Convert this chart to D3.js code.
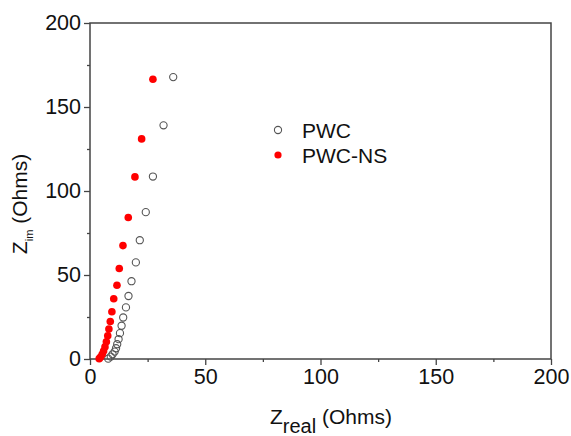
<!DOCTYPE html>
<html>

<head>
    <meta charset="utf-8" />
    <script src="https://d3js.org/d3.v7.min.js"></script>
    <style>
        body {
            margin: 0;
            background: #fff;
        }

        text {
            font-family: "Liberation Sans", Arial, sans-serif;
            fill: #111;
        }
    </style>
</head>

<body>
    <script>
        // data (Ohms)
        const pwcReal = [7.9, 9.0, 9.8, 10.7, 11.3, 11.8, 12.4, 13.0, 13.7, 14.4, 15.6, 16.7, 18.0, 19.9, 21.6, 24.2, 27.3, 31.9, 36.1];
        const pwcIm = [0.2, 1.4, 2.8, 4.4, 6.4, 8.8, 11.8, 15.4, 19.8, 24.7, 30.7, 37.5, 46.3, 57.5, 70.7, 87.4, 108.6, 139.1, 167.8];

        const nsReal = [4.0, 4.6, 5.3, 5.9, 6.5, 7.1, 7.7, 8.2, 8.8, 9.5, 10.3, 11.7, 12.7, 14.3, 16.6, 19.5, 22.4, 27.3];
        const nsIm = [0.2, 1.2, 2.8, 4.8, 7.2, 10.2, 13.8, 17.8, 22.3, 28.1, 35.9, 43.9, 53.9, 67.5, 84.2, 108.4, 131.0, 166.5];

        const tickValues = [0, 50, 100, 150, 200];
        const minorTicks = [25, 75, 125, 175];

        const seriesNames = ['PWC', 'PWC-NS'];

        // dimensions
        const margin = {
            top: 23,
            right: 20,
            bottom: 77,
            left: 90
        };
        const width = 571 - margin.left - margin.right;
        const height = 436 - margin.top - margin.bottom;

        const svg = d3.select('body')
            .append('svg')
            .attr('width', 571)
            .attr('height', 436)
            .append('g')
            .attr('transform', `translate(${margin.left},${margin.top})`);

        const xScale = d3.scaleLinear().domain([0, 200]).range([0, width]);
        const yScale = d3.scaleLinear().domain([0, 200]).range([height, 0]);

        const axisColor = '#444';

        // frame
        svg.append('rect')
            .attr('x', 0)
            .attr('y', 0)
            .attr('width', width)
            .attr('height', height)
            .attr('fill', 'none')
            .attr('stroke', axisColor)
            .attr('stroke-width', 1.5);

        // axes
        svg.append('g')
            .attr('transform', `translate(0,${height})`)
            .call(d3.axisBottom(xScale).tickValues(tickValues).tickSize(6).tickPadding(4));
        svg.append('g')
            .attr('transform', `translate(0,${height})`)
            .call(d3.axisBottom(xScale).tickValues(minorTicks).tickSize(3).tickFormat(''));

        svg.append('g')
            .call(d3.axisLeft(yScale).tickValues(tickValues).tickSize(6).tickPadding(3));
        svg.append('g')
            .call(d3.axisLeft(yScale).tickValues(minorTicks).tickSize(3).tickFormat(''));

        svg.selectAll('.domain').remove();
        svg.selectAll('.tick line').attr('stroke', axisColor).attr('stroke-width', 1.3);
        svg.selectAll('.tick text')
            .style('font-size', '21.5px')
            .style('font-family', '"Liberation Sans", Arial, sans-serif')
            .attr('fill', '#111');

        // data points
        svg.append('g')
            .selectAll('circle')
            .data(pwcReal)
            .enter()
            .append('circle')
            .attr('cx', (d) => xScale(d))
            .attr('cy', (d, i) => yScale(pwcIm[i]))
            .attr('r', 3.6)
            .attr('fill', 'none')
            .attr('stroke', '#555')
            .attr('stroke-width', 1.1);

        svg.append('g')
            .selectAll('circle')
            .data(nsReal)
            .enter()
            .append('circle')
            .attr('cx', (d) => xScale(d))
            .attr('cy', (d, i) => yScale(nsIm[i]))
            .attr('r', 3.8)
            .attr('fill', '#ff0000');

        // legend
        const legend = svg.append('g').attr('transform', 'translate(188,107)');
        seriesNames.forEach((name, i) => {
            const row = legend.append('g').attr('transform', `translate(0,${i * 25})`);
            const c = row.append('circle').attr('cx', 0).attr('cy', 0).attr('r', 3.6);
            if (i === 0) {
                c.attr('fill', 'none').attr('stroke', '#555').attr('stroke-width', 1.1);
            } else {
                c.attr('fill', '#ff0000');
            }
            row.append('text')
                .attr('x', 24)
                .attr('y', 7.5)
                .style('font-size', '21px')
                .text(name);
        });

        // x axis label
        const xl = svg.append('text')
            .attr('x', 180)
            .attr('y', height + 65)
            .style('font-size', '21px');
        xl.append('tspan').text('Z');
        xl.append('tspan').attr('dy', 9).style('font-size', '20px').text('real');
        xl.append('tspan').attr('dy', -9).text(' (Ohms)');

        // y axis label
        const yl = svg.append('text')
            .attr('transform', `translate(${-63},${height / 2 + 13}) rotate(-90)`)
            .style('text-anchor', 'middle')
            .style('font-size', '21px');
        yl.append('tspan').text('Z');
        yl.append('tspan').attr('dy', 6).style('font-size', '11px').text('im');
        yl.append('tspan').attr('dy', -6).text(' (Ohms)');
    </script>
</body>

</html>
